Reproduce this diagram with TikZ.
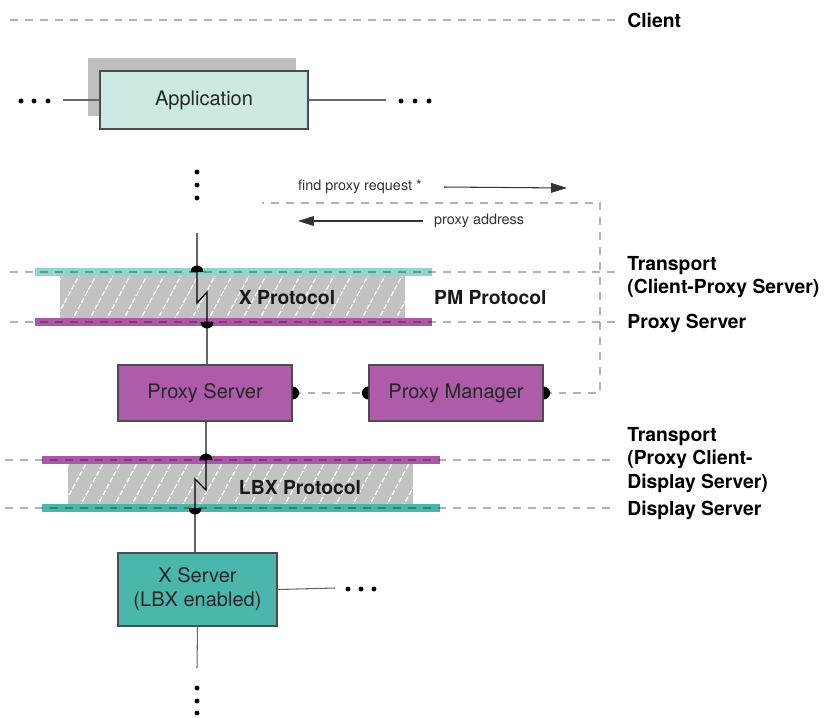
\documentclass[tikz,border=0pt]{standalone}
\usepackage{fontspec}
\setmainfont{TeX Gyre Heros}
\usetikzlibrary{arrows.meta,shadows}

\definecolor{appfill}{HTML}{CCEAE3}
\definecolor{shadowgray}{HTML}{BEBEBE}
\definecolor{tealband}{HTML}{8ED8C9}
\definecolor{magband}{HTML}{AC58A6}
\definecolor{magfill}{HTML}{AE5BA9}
\definecolor{xsrvfill}{HTML}{4BB7AC}
\definecolor{dispband}{HTML}{4DB6AA}
\definecolor{hatchgray}{HTML}{C2C2C2}

\begin{document}
\begin{tikzpicture}[
    x=0.02cm, y=-0.02cm,
    box/.style={draw=black!70, line width=0.7pt, text=black!85,
        font=\fontsize{11.4}{13.6}\selectfont, align=center},
    guide/.style={black, opacity=0.3, line width=0.6pt, dash pattern=on 4.5pt off 4pt},
    band/.style={line width=4pt},
    wire/.style={black!60, line width=0.6pt},
    zig/.style={black, line width=0.7pt},
    plug/.style={fill=black},
    hatch/.style={white, line width=0.7pt, dash pattern=on 3pt off 1.2pt},
    msg/.style={black!80, line width=0.6pt, -{Triangle[length=9pt,width=5.5pt]}},
    tag/.style={anchor=west, inner sep=0pt, align=left,
        font=\fontsize{11}{13.3}\selectfont\bfseries},
    proto/.style={font=\fontsize{11}{13}\selectfont\bfseries, text=black!90},
    note/.style={font=\fontsize{8.2}{10}\selectfont, text=black!80},
    dot/.style={fill=black}
    ]
    \useasboundingbox (0,0) rectangle (827,717);

    % layer labels
    \node[tag] (client) at (627,20) {Client};
    \node[tag] (trans1) at (627,277) {Transport\\(Client-Proxy Server)};
    \node[tag] (pslayer) at (627,323) {Proxy Server};
    \node[tag] (trans2) at (627,460) {Transport\\(Proxy Client-\\Display Server)};
    \node[tag] (dslayer) at (627,510) {Display Server};

    % hatched protocol blocks
    \begin{scope}
        \clip (60,276) rectangle (405,319);
        \fill[hatchgray] (60,276) rectangle (405,319);
        \foreach \i in {20,37,...,420}
            \draw[hatch] (\i,322) -- ++(27,-50);
    \end{scope}
    \begin{scope}
        \clip (68,463) rectangle (413,505);
        \fill[hatchgray] (68,463) rectangle (413,505);
        \foreach \i in {28,45,...,430}
            \draw[hatch] (\i,508) -- ++(27,-50);
    \end{scope}

    % transport bands
    \draw[band, tealband] (35,272) -- (432,272);
    \draw[band, magband] (35,322) -- (432,322);
    \draw[band, magband] (42,460) -- (440,460);
    \draw[band, dispband] (42,508) -- (440,508);

    % dashed layer lines
    \draw[guide] (10,20) -- (615,20);
    \draw[guide] (10,272) -- (615,272);
    \draw[guide] (10,322) -- (615,322);
    \draw[guide] (5,460) -- (615,460);
    \draw[guide] (5,508) -- (615,508);

    \node[proto] (xproto) at (287,298) {X Protocol};
    \node[proto, anchor=west] (pmproto) at (428,298) {PM Protocol};
    \node[proto] (lbxproto) at (300,488) {LBX Protocol};

    % boxes
    \node[box, fill=appfill, minimum width=4.16cm, minimum height=1.16cm,
        general shadow={fill=shadowgray, shadow xshift=-0.24cm, shadow yshift=0.26cm}]
        (app) at (204,100) {Application};
    \node[box, fill=magfill, minimum width=3.48cm, minimum height=1.12cm]
        (psrv) at (205,393) {Proxy Server};
    \node[box, fill=magfill, minimum width=3.48cm, minimum height=1.12cm]
        (pmgr) at (456,393) {Proxy Manager};
    \node[box, fill=xsrvfill, minimum width=3.18cm, minimum height=1.46cm]
        (xsrv) at (197.5,589.5) {X Server\\(LBX enabled)};

    % messages to the proxy manager
    \node[note, anchor=west] (req) at (292,187) {find proxy request *};
    \coordinate (reqend) at (567,188);
    \draw[msg] ([xshift=9pt]req.east) -- (reqend);
    \node[note, anchor=west] (addr) at (428,221) {proxy address};
    \coordinate (addrend) at (298,221);
    \draw[msg] ([xshift=-3pt]addr.west) -- (addrend);
    \coordinate (pmstart) at (262,203);
    \coordinate (pmcorner) at (600,203);
    \draw[guide] (pmgr.east) -| (pmcorner) -- (pmstart);
    \draw[guide] (psrv.east) -- (pmgr.west);

    % dots and open ends
    \coordinate (lend) at (63,100);
    \coordinate (rend) at (386,100);
    \draw[wire] (app.west) -- (lend);
    \draw[wire] (app.east) -- (rend);
    \foreach \x in {21,34,48} \fill[dot] (\x,101) circle (1.4pt);
    \foreach \x in {401,415,429} \fill[dot] (\x,101) circle (1.4pt);
    \foreach \y in {172,185,198} \fill[dot] (197,\y) circle (1.4pt);

    % X protocol link
    \coordinate (xin) at (197,233);
    \coordinate (xtop) at (197,272);
    \coordinate (xbot) at (207,322);
    \draw[wire] (xin) -- (xtop);
    \draw[zig] (xtop) -- ++(0,31) -- ++(10,-11) -- (xbot);
    \draw[wire] (xbot) -- (xbot |- psrv.north);
    \fill[plug] (xtop) +(-3.7pt,0pt) arc[start angle=180, end angle=0, radius=3.7pt] -- cycle;
    \fill[plug] (xbot) +(-3.7pt,0pt) arc[start angle=180, end angle=360, radius=3.7pt] -- cycle;

    % LBX protocol link
    \coordinate (ltop) at (206,460);
    \coordinate (lbot) at (195,508);
    \draw[wire] (psrv.south -| ltop) -- (ltop);
    \draw[zig] (ltop) -- ++(0,30) -- ++(-11,-11) -- (lbot);
    \draw[wire] (lbot) -- (lbot |- xsrv.north);
    \fill[plug] (ltop) +(-3.7pt,0pt) arc[start angle=180, end angle=0, radius=3.7pt] -- cycle;
    \fill[plug] (lbot) +(-3.7pt,0pt) arc[start angle=180, end angle=360, radius=3.7pt] -- cycle;

    % plugs on the proxy boxes
    \fill[plug] (psrv.east) +(0pt,3.7pt) arc[start angle=90, end angle=-90, radius=3.7pt] -- cycle;
    \fill[plug] (pmgr.west) +(0pt,3.7pt) arc[start angle=90, end angle=270, radius=3.7pt] -- cycle;
    \fill[plug] (pmgr.east) +(0pt,3.7pt) arc[start angle=90, end angle=-90, radius=3.7pt] -- cycle;

    % X server ends
    \coordinate (xsend) at (335,588);
    \coordinate (xdown) at (197,668);
    \draw[wire] (xsrv.east) -- (xsend);
    \draw[wire] (xsrv.south) -- (xdown);
    \foreach \x in {348,361,374} \fill[dot] (\x,589) circle (1.4pt);
    \foreach \y in {688,701,713} \fill[dot] (197,\y) circle (1.4pt);
\end{tikzpicture}
\end{document}
